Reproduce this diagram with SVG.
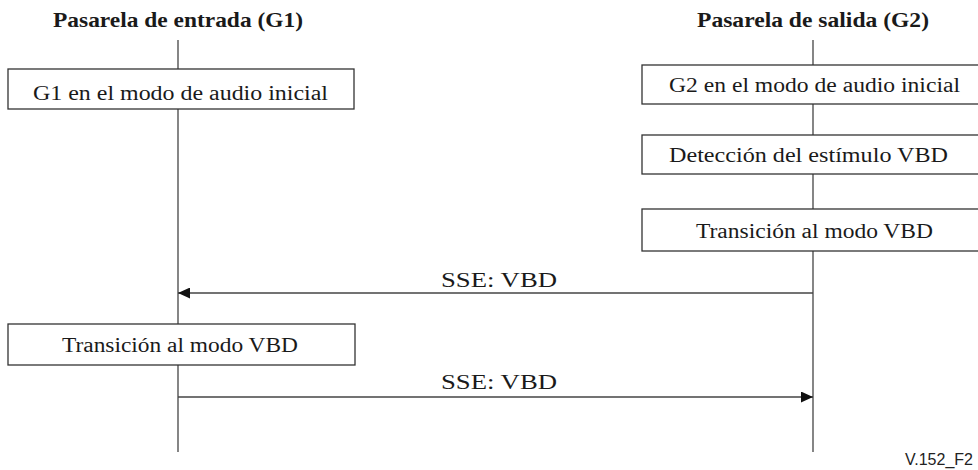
<svg xmlns="http://www.w3.org/2000/svg" width="978" height="470" viewBox="0 0 978 470">
<defs>
<style>
.hdr{font-family:"Liberation Serif","Times New Roman",serif;font-weight:bold;font-size:21px;fill:#1a1a1a}
.txt{font-family:"Liberation Serif","Times New Roman",serif;font-size:20px;fill:#1a1a1a}
.box{fill:#fff;stroke:#333;stroke-width:1.3}
.life{stroke:#444;stroke-width:1.3;fill:none}
.msg{stroke:#444;stroke-width:1.3;fill:none}
.tag{font-family:"Liberation Sans",Arial,sans-serif;font-size:16px;fill:#222}
</style>
<marker id="ah" viewBox="0 0 12 11" refX="12" refY="5.5" markerWidth="12" markerHeight="11" markerUnits="userSpaceOnUse" orient="auto">
<path d="M0,0 L12,5.5 L0,11 Z" fill="#111"/>
</marker>
</defs>
<g id="lifelines">
<line class="life" x1="178" y1="40" x2="178" y2="452"/>
<line class="life" x1="813" y1="40" x2="813" y2="452"/>
</g>
<g id="g1-header"><text class="hdr" x="53" y="27" textLength="250" lengthAdjust="spacingAndGlyphs">Pasarela de entrada (G1)</text></g>
<g id="g2-header"><text class="hdr" x="697" y="27" textLength="232" lengthAdjust="spacingAndGlyphs">Pasarela de salida (G2)</text></g>
<g id="g1-audio"><rect class="box" x="8" y="69" width="346" height="40"/><text class="txt" x="33" y="100" textLength="295" lengthAdjust="spacingAndGlyphs">G1 en el modo de audio inicial</text></g>
<g id="g2-audio"><rect class="box" x="642" y="65" width="340" height="39"/><text class="txt" x="669" y="92" textLength="291" lengthAdjust="spacingAndGlyphs">G2 en el modo de audio inicial</text></g>
<g id="g2-detect"><rect class="box" x="642" y="135" width="340" height="39"/><text class="txt" x="669" y="162" textLength="279" lengthAdjust="spacingAndGlyphs">Detección del estímulo VBD</text></g>
<g id="g2-trans"><rect class="box" x="642" y="209" width="340" height="42"/><text class="txt" x="696" y="238" textLength="237" lengthAdjust="spacingAndGlyphs">Transición al modo VBD</text></g>
<g id="g1-trans"><rect class="box" x="8" y="324" width="347" height="41"/><text class="txt" x="62" y="352" textLength="236" lengthAdjust="spacingAndGlyphs">Transición al modo VBD</text></g>
<g id="connectors">
<line class="msg" x1="813" y1="293" x2="178" y2="293" marker-end="url(#ah)"/>
<text class="txt" x="441" y="287" textLength="116" lengthAdjust="spacingAndGlyphs">SSE: VBD</text>
<line class="msg" x1="178" y1="397" x2="813" y2="397" marker-end="url(#ah)"/>
<text class="txt" x="441" y="389" textLength="116" lengthAdjust="spacingAndGlyphs">SSE: VBD</text>
</g>
<text class="tag" x="905" y="465" textLength="68" lengthAdjust="spacingAndGlyphs">V.152_F2</text>
</svg>
